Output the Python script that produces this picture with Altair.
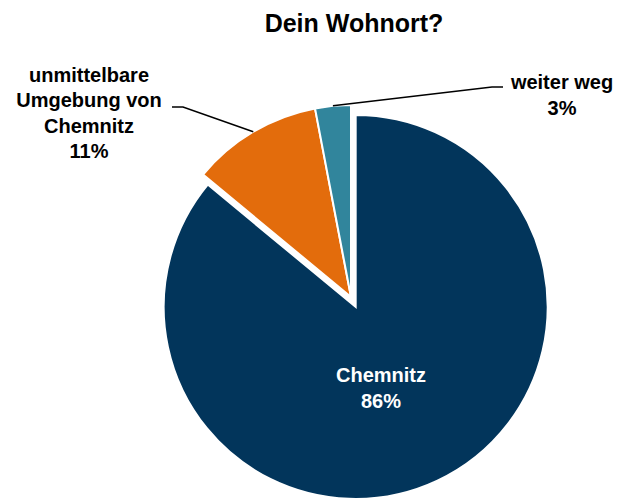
import math
import altair as alt
import pandas as pd

# ---- data ----
categories = ["Chemnitz", "unmittelbare Umgebung von Chemnitz", "weiter weg"]
label_lines = [["Chemnitz"], ["unmittelbare", "Umgebung von", "Chemnitz"], ["weiter weg"]]
values = [86, 11, 3]
colors = ["#02355B", "#E36C0C", "#31859C"]
title_text = "Dein Wohnort?"

# ---- layout (pixels, chart coordinates; page = chart + 8) ----
W, H = 606, 490
CX, CY = 343, 289          # pie centre
R = 192                     # radius
EXPLODE = 11                # explode distance of first slice
FONT = "Liberation Sans"

total = sum(values)
mids = []
acc = 0
for v in values:
    mids.append((acc + v / 2) / total * 2 * math.pi)
    acc += v

# exploded centre of first slice
NX = CX + EXPLODE * math.sin(mids[0])
NY = CY - EXPLODE * math.cos(mids[0])

df = pd.DataFrame({"cat": categories, "value": values, "order": list(range(len(values)))})
base = alt.Chart(df)
color = alt.Color("cat:N", scale=alt.Scale(domain=categories, range=colors), legend=None)

arc_main = base.mark_arc(radius=R, stroke="white", strokeWidth=2).encode(
    theta=alt.Theta("value:Q", stack=True),
    order=alt.Order("order:Q"),
    color=color,
    x=alt.value(NX), y=alt.value(NY),
    opacity=alt.condition(alt.datum.cat == categories[0], alt.value(1), alt.value(0)),
)
arc_rest = base.mark_arc(radius=R, stroke="white", strokeWidth=2).encode(
    theta=alt.Theta("value:Q", stack=True),
    order=alt.Order("order:Q"),
    color=color,
    x=alt.value(CX), y=alt.value(CY),
    opacity=alt.condition(alt.datum.cat == categories[0], alt.value(0), alt.value(1)),
)

# leader lines: from label elbow to slice midpoint on the rim
def rim(i):
    return CX + R * math.sin(mids[i]), CY - R * math.cos(mids[i])

ox, oy = rim(1)
tx, ty = rim(2)
leader_rows = [
    {"g": 1, "i": 0, "x": 164, "y": 99},
    {"g": 1, "i": 1, "x": 175, "y": 99},
    {"g": 1, "i": 2, "x": ox, "y": oy},
    {"g": 2, "i": 0, "x": tx, "y": ty},
    {"g": 2, "i": 1, "x": 484, "y": 79},
    {"g": 2, "i": 2, "x": 495, "y": 79},
]
leaders = alt.Chart(pd.DataFrame(leader_rows)).mark_line(color="black", strokeWidth=1.5).encode(
    x=alt.X("x:Q", scale=None, axis=None),
    y=alt.Y("y:Q", scale=None, axis=None),
    detail="g:N",
    order="i:Q",
)

# labels
label_pos = {0: (373, 368, 26, "white"), 1: (81, 68, 25.3, "black"), 2: (554, 75, 26, "black")}
rows = []
for i, lines in enumerate(label_lines):
    x0, y0, lh, fc = label_pos[i]
    all_lines = lines + [f"{values[i]}%"]
    for k, t in enumerate(all_lines):
        rows.append({"x": x0, "y": y0 + k * lh, "t": t, "c": fc, "s": 20})
rows.append({"x": 346, "y": 16, "t": title_text, "c": "black", "s": 25})

labels = alt.Chart(pd.DataFrame(rows)).mark_text(
    font=FONT, fontWeight="bold", align="center", baseline="middle"
).encode(
    x=alt.X("x:Q", scale=None, axis=None),
    y=alt.Y("y:Q", scale=None, axis=None),
    text="t:N",
    color=alt.Color("c:N", scale=None),
    size=alt.Size("s:Q", scale=None),
)

chart = alt.layer(arc_main, arc_rest, leaders, labels).properties(
    width=W, height=H, padding=0, autosize=alt.AutoSizeParams(type="none")
).configure_view(stroke=None)

chart.save("out.html", embed_options={"renderer": "svg", "actions": False})
